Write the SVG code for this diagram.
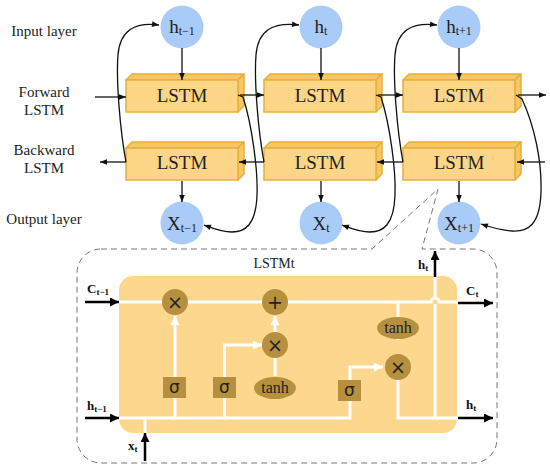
<svg xmlns="http://www.w3.org/2000/svg" width="550" height="471" viewBox="0 0 550 471">
<style>
.lbl{font-family:"Liberation Serif",serif;font-size:15px;fill:#222;text-anchor:middle}
.box .front{fill:#FDD587;stroke:#E6B03C;stroke-width:1.5}
.box .face{fill:#F7C764;stroke:#E6B03C;stroke-width:1.5;stroke-linejoin:round}
.box text{font-family:"Liberation Serif",serif;font-size:19px;fill:#222;text-anchor:middle}
.circ{fill:#A9CBF7}
.ct{font-family:"Liberation Serif",serif;font-size:19px;fill:#222;text-anchor:middle}
.sub{font-size:12px}
.ln{fill:none;stroke:#111;stroke-width:1.3}
.wl{fill:none;stroke:#fff;stroke-width:3}
.bk{fill:none;stroke:#000;stroke-width:2.5}
.gold{fill:#B7903F}
.bl{font-family:"Liberation Serif",serif;font-size:13px;font-weight:bold;fill:#111}
.bsub{font-size:9px}
.sym{font-family:"DejaVu Sans",sans-serif;font-size:19px;fill:#222;text-anchor:middle}
.sig{font-family:"DejaVu Sans",sans-serif;font-size:17px;fill:#222;text-anchor:middle}
.tanh{font-family:"Liberation Serif",serif;font-size:16px;fill:#222;text-anchor:middle}
</style>
<defs>
<marker id="ab" viewBox="0 0 10 10" refX="10" refY="5" markerWidth="8" markerHeight="7" markerUnits="userSpaceOnUse" orient="auto"><path d="M0,1 L10,5 L0,9 z" fill="#111"/></marker>
<marker id="abk" viewBox="0 0 10 10" refX="10" refY="5" markerWidth="10" markerHeight="9" markerUnits="userSpaceOnUse" orient="auto"><path d="M0,0 L10,5 L0,10 z" fill="#000"/></marker>
<marker id="aw" viewBox="0 0 10 10" refX="10" refY="5" markerWidth="10" markerHeight="9" markerUnits="userSpaceOnUse" orient="auto"><path d="M0,0 L10,5 L0,10 z" fill="#fff"/></marker>
</defs>
<rect width="550" height="471" fill="#fff"/>

<g id="row-labels">
<text class="lbl" x="44" y="36">Input layer</text>
<text class="lbl" x="44" y="97">Forward</text>
<text class="lbl" x="44" y="115">LSTM</text>
<text class="lbl" x="44" y="155">Backward</text>
<text class="lbl" x="44" y="173">LSTM</text>
<text class="lbl" x="44" y="224">Output layer</text>
</g>

<g id="in1"><circle class="circ" cx="182" cy="27" r="21.5"/><text class="ct" x="182" y="33">h<tspan class="sub" dy="2">t−1</tspan></text></g>
<g id="in2"><circle class="circ" cx="321" cy="27" r="21.5"/><text class="ct" x="321" y="33">h<tspan class="sub" dy="2">t</tspan></text></g>
<g id="in3"><circle class="circ" cx="459" cy="27" r="21.5"/><text class="ct" x="459" y="33">h<tspan class="sub" dy="2">t+1</tspan></text></g>

<g id="fw1" class="box" transform="translate(126,74)"><path class="face" d="M0,6 L6,0 L118,0 L112,6 z"/><path class="face" d="M112,6 L118,0 L118,32 L112,38 z"/><rect class="front" x="0" y="6" width="112" height="32"/><text x="56" y="28">LSTM</text></g>
<g id="fw2" class="box" transform="translate(264,74)"><path class="face" d="M0,6 L6,0 L118,0 L112,6 z"/><path class="face" d="M112,6 L118,0 L118,32 L112,38 z"/><rect class="front" x="0" y="6" width="112" height="32"/><text x="56" y="28">LSTM</text></g>
<g id="fw3" class="box" transform="translate(403,74)"><path class="face" d="M0,6 L6,0 L118,0 L112,6 z"/><path class="face" d="M112,6 L118,0 L118,32 L112,38 z"/><rect class="front" x="0" y="6" width="112" height="32"/><text x="56" y="28">LSTM</text></g>
<g id="bw1" class="box" transform="translate(126,142)"><path class="face" d="M0,6 L6,0 L118,0 L112,6 z"/><path class="face" d="M112,6 L118,0 L118,32 L112,38 z"/><rect class="front" x="0" y="6" width="112" height="32"/><text x="56" y="27">LSTM</text></g>
<g id="bw2" class="box" transform="translate(264,142)"><path class="face" d="M0,6 L6,0 L118,0 L112,6 z"/><path class="face" d="M112,6 L118,0 L118,32 L112,38 z"/><rect class="front" x="0" y="6" width="112" height="32"/><text x="56" y="27">LSTM</text></g>
<g id="bw3" class="box" transform="translate(403,142)"><path class="face" d="M0,6 L6,0 L118,0 L112,6 z"/><path class="face" d="M112,6 L118,0 L118,32 L112,38 z"/><rect class="front" x="0" y="6" width="112" height="32"/><text x="56" y="27">LSTM</text></g>

<g id="out1"><circle class="circ" cx="182" cy="223" r="21.5"/><text class="ct" x="182" y="230">X<tspan class="sub" dy="2">t−1</tspan></text></g>
<g id="out2"><circle class="circ" cx="321" cy="223" r="21.5"/><text class="ct" x="321" y="230">X<tspan class="sub" dy="2">t</tspan></text></g>
<g id="out3"><circle class="circ" cx="459" cy="223" r="21.5"/><text class="ct" x="459" y="230">X<tspan class="sub" dy="2">t+1</tspan></text></g>

<g id="connectors">
<line class="ln" x1="182" y1="48" x2="182" y2="80" marker-end="url(#ab)"/>
<line class="ln" x1="321" y1="48" x2="321" y2="80" marker-end="url(#ab)"/>
<line class="ln" x1="459" y1="48" x2="459" y2="80" marker-end="url(#ab)"/>
<line class="ln" x1="182" y1="181" x2="182" y2="202" marker-end="url(#ab)"/>
<line class="ln" x1="321" y1="181" x2="321" y2="202" marker-end="url(#ab)"/>
<line class="ln" x1="459" y1="181" x2="459" y2="202" marker-end="url(#ab)"/>
<line class="ln" x1="95" y1="97" x2="126" y2="97" marker-end="url(#ab)"/>
<line class="ln" x1="240" y1="95" x2="264" y2="95" marker-end="url(#ab)"/>
<line class="ln" x1="378" y1="95" x2="403" y2="95" marker-end="url(#ab)"/>
<line class="ln" x1="518" y1="95" x2="546" y2="95" marker-end="url(#ab)"/>
<line class="ln" x1="126" y1="162" x2="100" y2="162" marker-end="url(#ab)"/>
<line class="ln" x1="264" y1="162" x2="239" y2="162" marker-end="url(#ab)"/>
<line class="ln" x1="403" y1="162" x2="377" y2="162" marker-end="url(#ab)"/>
<line class="ln" x1="545" y1="162" x2="517" y2="162" marker-end="url(#ab)"/>
<path class="ln" d="M238,95 L243,97 C252,125 258,170 257,195 C256,225 245,232 232,232 C222,232 212,228 204,225" marker-end="url(#ab)"/>
<path class="ln" d="M376,95 L381,97 C390,125 396,170 395,195 C394,225 383,232 370,232 C360,232 350,228 342,225" marker-end="url(#ab)"/>
<path class="ln" d="M516,95 L522,99 C534,125 542,160 541,192 C540,225 528,232 512,231 C500,230 490,227 481,224" marker-end="url(#ab)"/>
<path class="ln" d="M126,162 C120,130 116,80 118,55 C120,30 135,22 159,25" marker-end="url(#ab)"/>
<path class="ln" d="M264,162 C258,130 254,80 256,55 C258,30 273,22 299,25" marker-end="url(#ab)"/>
<path class="ln" d="M403,162 C397,130 393,80 395,55 C397,30 412,22 437,25" marker-end="url(#ab)"/>
</g>

<g id="lstm-cell">
<path d="M101,249 L372,249 L438,189 L422,249 L473,249 A24,24 0 0 1 497,273 L497,439 A24,24 0 0 1 473,463 L101,463 A24,24 0 0 1 77,439 L77,273 A24,24 0 0 1 101,249 z" fill="none" stroke="#777" stroke-width="1" stroke-dasharray="6,4"/>
<text x="274" y="268" style="font-family:'Liberation Serif',serif;font-size:14px;fill:#222;text-anchor:middle">LSTMt</text>
<rect x="119" y="276" width="338" height="157" rx="14" fill="#FDD78E"/>

<g id="cell-lines">
<path class="wl" d="M119,302 H431 A4,4 0 0 1 439,302 H457"/>
<path class="wl" d="M119,418 H350 V367 H383" marker-end="url(#aw)"/>
<path class="wl" d="M175,418 V316" marker-end="url(#aw)"/>
<path class="wl" d="M224.5,418 V345 H262" marker-end="url(#aw)"/>
<path class="wl" d="M275,332 V316" marker-end="url(#aw)"/>
<line class="wl" x1="275" y1="358" x2="275" y2="376"/>
<path class="wl" d="M145,433 V418"/>
<path class="wl" d="M398,302 V340"/>
<path class="wl" d="M398,367 V418 H457"/>
<path class="wl" d="M435,418 V304 M435,299 V276"/>
</g>

<g id="op-f"><circle class="gold" cx="175" cy="302" r="13"/><text class="sym" x="175" y="309">×</text></g>
<g id="op-plus"><circle class="gold" cx="275" cy="302" r="13"/><text class="sym" x="275" y="309">+</text></g>
<g id="op-i"><circle class="gold" cx="275" cy="345" r="13"/><text class="sym" x="275" y="352">×</text></g>
<g id="op-o"><circle class="gold" cx="398" cy="367" r="13"/><text class="sym" x="398" y="374">×</text></g>
<g id="sig1"><rect class="gold" x="163" y="377" width="23" height="21"/><text class="sig" x="174.5" y="393">σ</text></g>
<g id="sig2"><rect class="gold" x="213" y="377" width="23" height="21"/><text class="sig" x="224.5" y="393">σ</text></g>
<g id="sig3"><rect class="gold" x="338" y="380" width="23" height="21"/><text class="sig" x="349.5" y="396">σ</text></g>
<g id="tanh1"><ellipse class="gold" cx="275" cy="388" rx="21" ry="11"/><text class="tanh" x="275" y="393">tanh</text></g>
<g id="tanh2"><ellipse class="gold" cx="398" cy="328" rx="21" ry="11"/><text class="tanh" x="398" y="333">tanh</text></g>

<g id="cell-io">
<line class="bk" x1="85" y1="302" x2="119" y2="302" marker-end="url(#abk)"/>
<line class="bk" x1="85" y1="418" x2="119" y2="418" marker-end="url(#abk)"/>
<line class="bk" x1="145" y1="461" x2="145" y2="433" marker-end="url(#abk)"/>
<line class="bk" x1="458" y1="303" x2="493" y2="303" marker-end="url(#abk)"/>
<line class="bk" x1="458" y1="418" x2="493" y2="418" marker-end="url(#abk)"/>
<line class="bk" x1="435" y1="277" x2="435" y2="251" marker-end="url(#abk)"/>
<text class="bl" x="87" y="293">C<tspan class="bsub" dy="2">t−1</tspan></text>
<text class="bl" x="87" y="410">h<tspan class="bsub" dy="2">t−1</tspan></text>
<text class="bl" x="128" y="450">x<tspan class="bsub" dy="2">t</tspan></text>
<text class="bl" x="466" y="295">C<tspan class="bsub" dy="2">t</tspan></text>
<text class="bl" x="466" y="409">h<tspan class="bsub" dy="2">t</tspan></text>
<text class="bl" x="418" y="269">h<tspan class="bsub" dy="2">t</tspan></text>
</g>
</g>
</svg>
